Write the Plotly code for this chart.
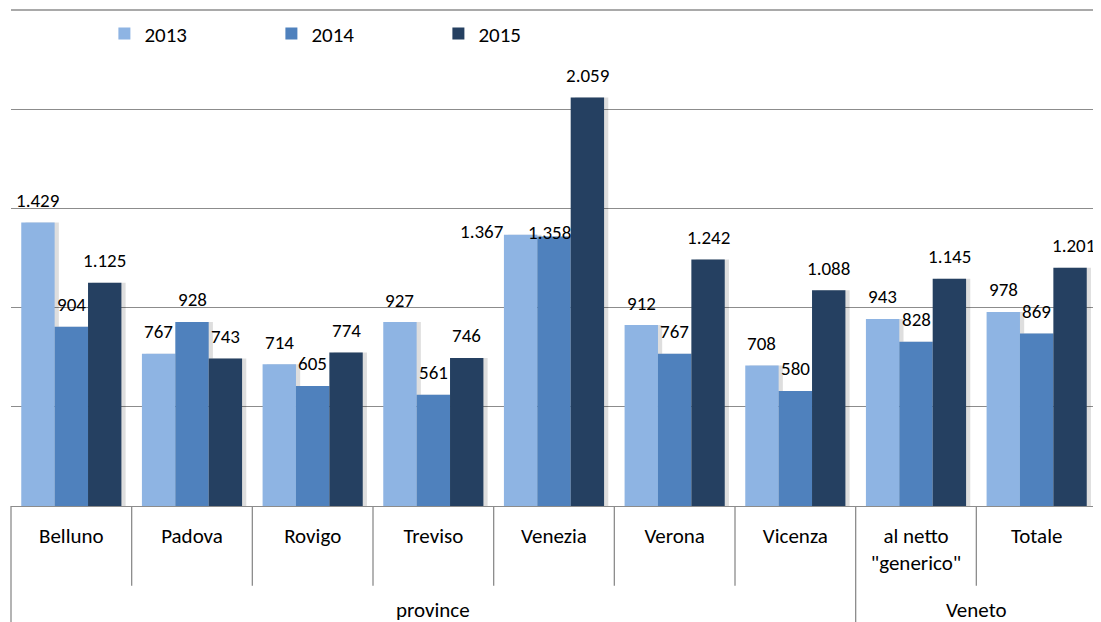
import plotly.graph_objects as go

# ---- data ----
categories = ["Belluno", "Padova", "Rovigo", "Treviso", "Venezia",
              "Verona", "Vicenza", "al netto<br>\"generico\"", "Totale"]
groups = ["province", "Veneto"]
group_spans = [(0, 6), (7, 8)]   # first / last category index of each group

years = ["2013", "2014", "2015"]
values_2013 = [1429, 767, 714, 927, 1367, 912, 708, 943, 978]
values_2014 = [904, 928, 605, 561, 1358, 767, 580, 828, 869]
values_2015 = [1125, 743, 774, 746, 2059, 1242, 1088, 1145, 1201]
series = [values_2013, values_2014, values_2015]

# label nudges (pixels) where the original labels were moved by hand
label_nudge = {(4, 0): (-39, -19), (4, 1): (-5, -18), (8, 2): (3, 0)}

colors = {
    'bars': ['#8EB4E3', '#4F81BD', '#254061'],
    'grid': '#8C8C8C',
    'text': '#000000',
    'shadow': 'rgba(0,0,0,0.13)'
}
FONT = "Calibri, Carlito, Lato, sans-serif"

fig = go.Figure()

x = list(range(len(categories)))
bargap = 0.17
w = (1 - bargap) / len(series)
offsets = [-(1 - bargap) / 2 + j * w for j in range(len(series))]

# soft shadows behind the bars
for j, vals in enumerate(series):
    fig.add_trace(go.Bar(x=x, y=vals, width=w, offset=offsets[j] + 0.035,
                         marker_color=colors['shadow'], marker_line_width=0,
                         showlegend=False, hoverinfo='skip'))

for j, (name, vals) in enumerate(zip(years, series)):
    fig.add_trace(go.Bar(x=x, y=vals, name=name, width=w, offset=offsets[j],
                         marker_color=colors['bars'][j], marker_line_width=0))

# data labels (Italian thousands separator)
for j, vals in enumerate(series):
    for i, v in enumerate(vals):
        dx, dy = label_nudge.get((i, j), (0, 0))
        fig.add_annotation(x=i + offsets[j] + w / 2, y=v, xref='x', yref='y',
                           text=f"{v:,}".replace(",", "."), showarrow=False,
                           xanchor='center', yanchor='middle',
                           xshift=dx, yshift=22 + dy,
                           font=dict(family=FONT, size=19, color=colors['text']))

# category box: separators under the axis
group_starts = [s for s, _ in group_spans[1:]]
shapes = []
for i in range(1, len(categories)):
    bottom = -0.26 if i in group_starts else -0.161
    shapes.append(dict(type='line', xref='x', yref='paper', x0=i - 0.5, x1=i - 0.5,
                       y0=0, y1=bottom, line=dict(color=colors['grid'], width=1.3)))
for xe in (0, 1):
    shapes.append(dict(type='line', xref='paper', yref='paper', x0=xe, x1=xe,
                       y0=0, y1=-0.26, line=dict(color=colors['grid'], width=1.3)))
# top gridline (range edge)
shapes.append(dict(type='line', xref='paper', yref='paper', x0=0, x1=1.01,
                   y0=1, y1=1, line=dict(color=colors['grid'], width=1.3)))

for g, (s, e) in zip(groups, group_spans):
    fig.add_annotation(x=(s + e) / 2, y=-0.209, xref='x', yref='paper', text=g,
                       showarrow=False, yanchor='middle',
                       font=dict(family=FONT, size=21, color=colors['text']))

# page body has an 8px margin, so the figure is sized to fit the window
fig.update_layout(
    width=1093, height=614,
    margin=dict(l=3, r=4, t=2, b=116),
    paper_bgcolor='white', plot_bgcolor='white',
    barmode='overlay',
    shapes=shapes,
    font=dict(family=FONT, size=20, color=colors['text']),
    legend=dict(orientation='h', x=0.086, y=0.952, xanchor='left', yanchor='middle',
                entrywidth=122, entrywidthmode='pixels',
                font=dict(family=FONT, size=21, color=colors['text']),
                bgcolor='rgba(0,0,0,0)'),
)
fig.update_xaxes(range=[-0.5, len(categories) - 0.5], tickvals=x, ticktext=categories,
                 showgrid=False, zeroline=False, showline=False, ticks='',
                 ticklabelstandoff=15, tickfont=dict(family=FONT, size=21))
fig.update_yaxes(range=[0, 2500], tick0=0, dtick=500, showticklabels=False,
                 showgrid=True, gridcolor=colors['grid'], gridwidth=1.3,
                 zeroline=True, zerolinecolor=colors['grid'], zerolinewidth=1.3,
                 showline=False)

fig.write_html("out.html")
